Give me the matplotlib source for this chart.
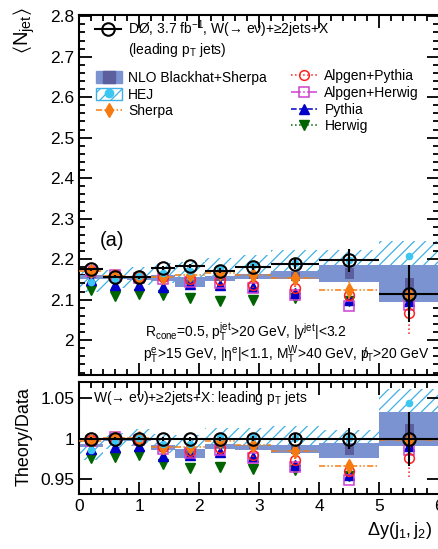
import numpy as np
import matplotlib
matplotlib.use("Agg")
import matplotlib.pyplot as plt
from matplotlib.patches import Patch
from matplotlib.lines import Line2D
from matplotlib.ticker import MultipleLocator, FuncFormatter

plt.rcParams['font.family'] = ['Liberation Sans', 'DejaVu Sans']
plt.rcParams['mathtext.fontset'] = 'custom'
plt.rcParams['mathtext.rm'] = 'Liberation Sans'
plt.rcParams['mathtext.it'] = 'Liberation Sans:italic'
plt.rcParams['mathtext.default'] = 'regular'
plt.rcParams['hatch.linewidth'] = 0.9

# binning in dy(j1,j2)
bin_edges = [0.0, 0.4, 0.8, 1.2, 1.6, 2.1, 2.6, 3.2, 4.0, 5.0, 6.0]
dy_centers = [0.2, 0.6, 1.0, 1.4, 1.85, 2.35, 2.9, 3.6, 4.5, 5.5]

# D0 data
data_njet = [2.175, 2.157, 2.155, 2.178, 2.183, 2.172, 2.180, 2.188, 2.197, 2.115]
data_err = [0.004, 0.004, 0.004, 0.005, 0.005, 0.006, 0.007, 0.012, 0.028, 0.070]

# NLO Blackhat+Sherpa (scale band + stat box)
nlo_lo = [2.152, 2.150, 2.148, 2.147, 2.132, 2.145, 2.150, 2.150, 2.144, 2.095]
nlo_hi = [2.162, 2.158, 2.158, 2.160, 2.155, 2.158, 2.163, 2.170, 2.186, 2.185]
nlo_stat_lo = [2.153, 2.151, 2.149, 2.149, 2.139, 2.147, 2.152, 2.146, 2.152, 2.116]
nlo_stat_hi = [2.160, 2.157, 2.156, 2.157, 2.149, 2.156, 2.161, 2.168, 2.178, 2.153]

# HEJ
hej_lo = [2.119, 2.130, 2.136, 2.140, 2.146, 2.155, 2.160, 2.164, 2.168, 2.170]
hej_hi = [2.169, 2.173, 2.181, 2.190, 2.194, 2.202, 2.210, 2.223, 2.222, 2.245]
hej_njet = [2.144, 2.152, 2.158, 2.165, 2.170, 2.178, 2.185, 2.190, 2.198, 2.208]

# LO / PS generators
sherpa_njet = [2.170, 2.158, 2.156, 2.156, 2.160, 2.165, 2.162, 2.154, 2.123, 2.113]
sherpa_err = [0.006, 0.006, 0.006, 0.006, 0.006, 0.007, 0.008, 0.009, 0.022, 0.060]
alpgen_pythia_njet = [2.172, 2.160, 2.155, 2.155, 2.150, 2.148, 2.136, 2.130, 2.111, 2.066]
alpgen_pythia_err = [0.004, 0.004, 0.004, 0.005, 0.005, 0.005, 0.006, 0.008, 0.010, 0.050]
alpgen_herwig_njet = [2.170, 2.162, 2.153, 2.150, 2.144, 2.141, 2.128, 2.112, 2.085, 2.086]
pythia_njet = [2.148, 2.136, 2.136, 2.132, 2.138, 2.136, 2.132, 2.116, 2.099, 2.096]
herwig_njet = [2.123, 2.109, 2.113, 2.111, 2.103, 2.096, 2.099, 2.103, 2.096, 2.093]

C_NLO = '#7b94d1'
C_NLO_STAT = '#5b5f9d'
C_HEJ = '#3fb0e6'
C_HEJ_PT = '#3cc6f2'
C_SHERPA = '#f57a10'
C_AP = '#ff2020'
C_AH = '#d040d0'
C_PYTHIA = '#0000c8'
C_HERWIG = '#006400'


def draw_panel(ax, norm):
    lo = np.array(bin_edges[:-1])
    w = np.diff(bin_edges)
    half = w / 2
    x = np.array(dy_centers)
    ax.bar(lo, (np.array(hej_hi) - hej_lo) / norm, bottom=np.array(hej_lo) / norm,
           width=w, align='edge', facecolor='none', edgecolor=C_HEJ,
           hatch='///', linewidth=0, zorder=1)
    ax.bar(lo, (np.array(nlo_hi) - nlo_lo) / norm, bottom=np.array(nlo_lo) / norm,
           width=w, align='edge', color=C_NLO, linewidth=0, zorder=2)
    ax.bar(x, (np.array(nlo_stat_hi) - nlo_stat_lo) / norm,
           bottom=np.array(nlo_stat_lo) / norm, width=0.15, color=C_NLO_STAT,
           linewidth=0, zorder=3)

    ax.errorbar(x, np.array(herwig_njet) / norm, fmt='v', color=C_HERWIG,
                ms=6.5, zorder=4)
    ax.errorbar(x, np.array(pythia_njet) / norm, fmt='^', color=C_PYTHIA,
                ms=6.5, zorder=5)
    ax.errorbar(x, np.array(alpgen_herwig_njet) / norm, fmt='s', color=C_AH,
                mfc='none', mew=1.1, ms=7, zorder=6)
    eb = ax.errorbar(x, np.array(alpgen_pythia_njet) / norm,
                     yerr=np.array(alpgen_pythia_err) / norm, fmt='o',
                     color=C_AP, mfc='none', mew=1.1, ms=7, elinewidth=1.1,
                     zorder=7)
    eb[2][0].set_linestyle(':')
    eb = ax.errorbar(x, np.array(sherpa_njet) / norm, xerr=half,
                     yerr=np.array(sherpa_err) / norm, fmt='d', color=C_SHERPA,
                     ms=7.5, elinewidth=1.1, zorder=8)
    for lc in eb[2]:
        lc.set_linestyle((0, (4, 1.5, 1, 1.5, 1, 1.5)))
    ax.errorbar(x, np.array(hej_njet) / norm, fmt='o', color=C_HEJ_PT, ms=4.5,
                zorder=9)
    ax.errorbar(x, np.array(data_njet) / norm, xerr=half,
                yerr=np.array(data_err) / norm, fmt='o', color='black',
                mfc='none', mew=1.5, ms=9, elinewidth=1.5, zorder=10)


def style_axes(ax):
    ax.tick_params(which='both', direction='in', top=True, right=True,
                   width=1.3, labelsize=12.5)
    ax.tick_params(which='major', length=9)
    ax.tick_params(which='minor', length=4.5)
    for s in ax.spines.values():
        s.set_linewidth(1.5)
    ax.set_xlim(0, 6)
    ax.xaxis.set_major_locator(MultipleLocator(1))
    ax.xaxis.set_minor_locator(MultipleLocator(0.2))
    fmt = FuncFormatter(lambda v, p: f'{v:g}')
    ax.xaxis.set_major_formatter(fmt)
    ax.yaxis.set_major_formatter(fmt)


fig = plt.figure(figsize=(4.38, 5.49), dpi=100)
ax1 = fig.add_axes([0.1804, 0.3169, 0.8219, 0.6558])
ax2 = fig.add_axes([0.1804, 0.0996, 0.8219, 0.2046])

draw_panel(ax1, 1.0)
draw_panel(ax2, np.array(data_njet))

style_axes(ax1)
style_axes(ax2)
ax1.set_ylim(1.914, 2.803)
ax1.yaxis.set_major_locator(MultipleLocator(0.1))
ax1.yaxis.set_minor_locator(MultipleLocator(0.02))
ax1.tick_params(labelbottom=False)
ax2.set_ylim(0.9315, 1.070)
ax2.yaxis.set_major_locator(MultipleLocator(0.05))
ax2.yaxis.set_minor_locator(MultipleLocator(0.05))

ax1.set_ylabel(r'$\langle N_{jet}\rangle$', fontsize=14.5, loc='top')
ax1.yaxis.set_label_coords(-0.117, 1.02)
ax2.set_ylabel('Theory/Data', fontsize=13)
ax2.yaxis.set_label_coords(-0.128, 0.51)
ax2.set_xlabel(r'$\Delta y(j_1,j_2)$', fontsize=13, loc='right')
ax2.xaxis.set_label_coords(0.98, -0.23)

# legends
fs = 10
h_data = Line2D([], [], color='black', marker='o', mfc='none', mew=1.5,
                ms=9, lw=1.5)
leg0 = ax1.legend([h_data], ['DØ, 3.7 fb$^{-1}$, W(→ eν)+≥2jets+X'],
                  loc='upper left', bbox_to_anchor=(0.044, 0.99),
                  frameon=False, fontsize=fs, borderpad=0, borderaxespad=0,
                  handlelength=1.9, handletextpad=0.5)
ax1.add_artist(leg0)
ax1.text(0.136, 0.903, '(leading p$_T$ jets)', transform=ax1.transAxes,
         fontsize=fs, va='center', ha='left')

h_nlo = (Patch(facecolor=C_NLO, edgecolor=C_NLO),
         Line2D([], [], ls='none', marker='s', color=C_NLO_STAT, ms=8))
h_hej = (Patch(facecolor='none', edgecolor=C_HEJ, hatch='///', lw=1),
         Line2D([], [], ls='none', marker='o', color=C_HEJ_PT, ms=6))
h_sherpa = Line2D([], [], color=C_SHERPA, ls=(0, (4, 1.5, 1, 1.5)),
                  marker='d', ms=7.5, lw=1.1)
leg1 = ax1.legend([h_nlo, h_hej, h_sherpa],
                  ['NLO Blackhat+Sherpa', 'HEJ', 'Sherpa'],
                  loc='upper left', bbox_to_anchor=(0.046, 0.845),
                  frameon=False, fontsize=fs, borderpad=0, borderaxespad=0,
                  handlelength=1.9, handleheight=0.9, handletextpad=0.45,
                  labelspacing=0.2)
ax1.add_artist(leg1)

h_ap = Line2D([], [], color=C_AP, ls=':', marker='o', mfc='none', mew=1.1,
              ms=7, lw=1.1)
h_ah = Line2D([], [], color=C_AH, ls='-.', marker='s', mfc='none', mew=1.1,
              ms=7, lw=1.1)
h_py = Line2D([], [], color=C_PYTHIA, ls='--', marker='^', ms=6.5, lw=1.1)
h_hw = Line2D([], [], color=C_HERWIG, ls=':', marker='v', ms=6.5, lw=1.1)
ax1.legend([h_ap, h_ah, h_py, h_hw],
           ['Alpgen+Pythia', 'Alpgen+Herwig', 'Pythia', 'Herwig'],
           loc='upper left', bbox_to_anchor=(0.589, 0.85),
           frameon=False, fontsize=fs, borderpad=0, borderaxespad=0,
           handlelength=1.9, handletextpad=0.5, labelspacing=0.2)

ax1.text(0.058, 0.375, '(a)', transform=ax1.transAxes, fontsize=14.5,
         va='center', ha='left')
ax1.text(0.183, 0.117,
         r'R$_{cone}$=0.5, p$_T^{jet}$>20 GeV, |y$^{jet}$|<3.2',
         transform=ax1.transAxes, fontsize=fs, va='center', ha='left')
ax1.text(0.178, 0.056,
         r'p$_T^e$>15 GeV, |$\eta^e$|<1.1, M$_T^W$>40 GeV, $p\!\!\!/_T$>20 GeV',
         transform=ax1.transAxes, fontsize=fs, va='center', ha='left')
ax2.text(0.039, 0.857, 'W(→ eν)+≥2jets+X: leading p$_T$ jets',
         transform=ax2.transAxes, fontsize=fs, va='center', ha='left')

fig.savefig('out.png', dpi=100)
